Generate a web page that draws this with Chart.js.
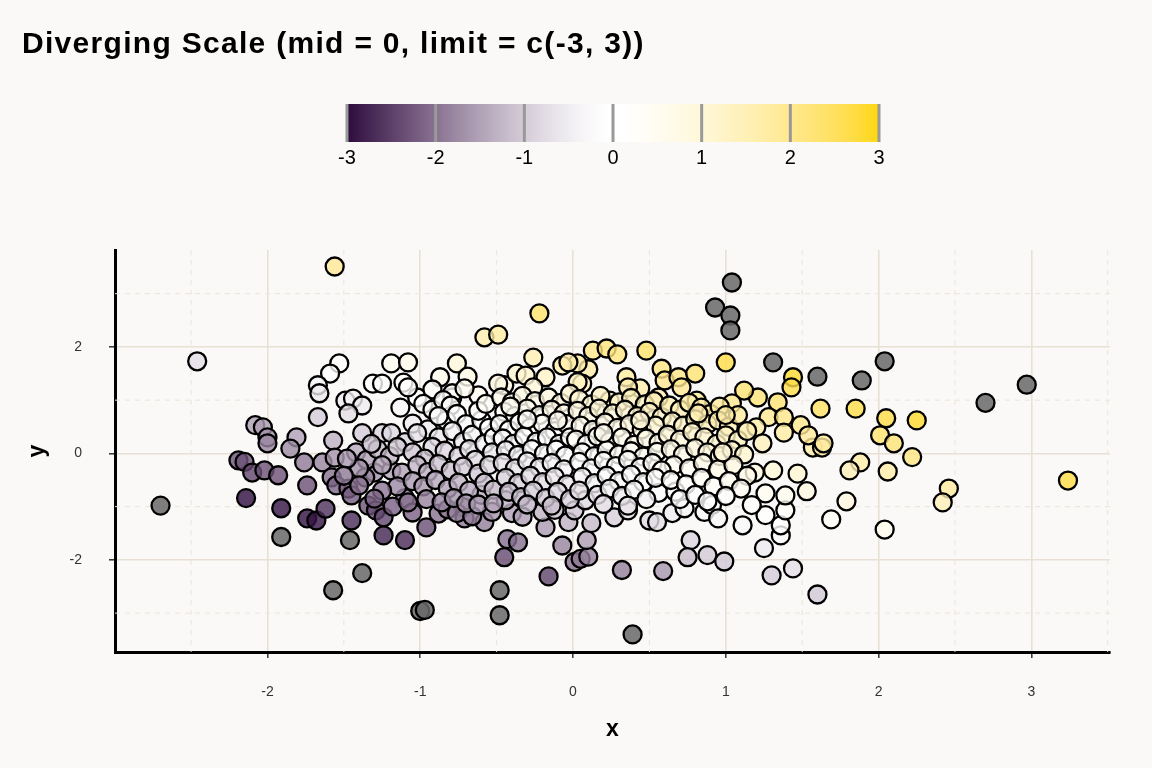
<!DOCTYPE html>
<html>
<head>
<meta charset="utf-8">
<title>Diverging Scale</title>
<script src="https://cdn.jsdelivr.net/npm/chart.js"></script>
<style>
  body{margin:0;background:#faf9f7}
  #wrap{width:1152px;height:768px;position:relative}
</style>
</head>
<body>
<div id="wrap"><canvas id="grafik"></canvas></div>
<script>
// ================= DATA =================
const xTicks = [-2, -1, 0, 1, 2, 3];
const yTicks = [-2, 0, 2];
const legendTicks = [-3, -2, -1, 0, 1, 2, 3];
const fillLimits = [-3, 3];

// [x, y] pairs; fill value is x + y
const points = [
  // outer / sparse
  [-1.56,3.51],[-2.46,1.73],[-2.70,-0.98],[-0.22,2.63],[-0.58,2.18],[-0.49,2.23],
  [1.04,3.21],[0.93,2.74],[1.03,2.59],[1.03,2.31],[1.0,1.71],[1.31,1.71],[1.60,1.44],[2.04,1.73],[1.89,1.37],[2.97,1.29],[2.70,0.95],
  [1.44,1.43],[1.43,1.24],[1.62,0.84],[1.85,0.84],[2.05,0.66],[2.25,0.62],[2.01,0.34],[2.10,0.19],[2.22,-0.07],[2.06,-0.34],
  [1.88,-0.17],[1.81,-0.32],[3.24,-0.51],[2.46,-0.66],[2.42,-0.92],[1.79,-0.90],[1.69,-1.24],[2.04,-1.43],[1.60,-2.65],
  [1.44,-2.16],[1.30,-2.29],[1.25,-1.78],[1.36,-1.54],[1.36,-1.35],[1.39,-1.07],[1.39,-0.79],[1.53,-0.71],[1.47,-0.38],
  [1.26,-0.75],[1.26,-1.16],[1.19,-0.36],[1.57,0.11],[1.63,0.11],[1.31,-0.32],
  [1.21,1.05],[1.34,0.96],[1.28,0.68],[1.38,0.68],[1.20,0.49],[1.38,0.39],[1.49,0.53],[1.54,0.34],[1.64,0.19],[1.24,0.19],
  [1.12,1.18],[1.04,0.94],[0.81,0.99],
  // top centre
  [0.13,1.93],[0.22,1.97],[0.29,1.86],[0.48,1.93],[0.10,1.58],[0.03,1.69],[0.35,1.43],[0.44,1.22],[0.36,1.24],[0.58,1.59],
  [0.60,1.37],[0.69,1.43],[0.71,1.24],[0.80,1.50],[0.56,1.05],[0.24,0.99],[0.06,1.31],[0.03,1.34],
  [-0.26,1.80],[-0.76,1.69],[-0.69,1.44],[-0.45,1.28],[-0.37,1.50],[-0.31,1.46],[-0.18,1.43],[-0.07,1.65],[-0.03,1.71],
  [-0.26,1.24],[-0.62,1.09],[-1.02,1.05],[-0.79,1.05],[-0.49,1.31],
  // upper left
  [-1.53,1.69],[-1.59,1.50],[-1.67,1.28],[-1.66,1.13],[-1.67,0.68],[-1.49,0.99],[-1.44,1.03],[-1.38,0.90],[-1.47,0.75],
  [-1.57,0.24],[-1.81,0.30],[-2.08,0.53],[-2.03,0.49],[-2.0,0.30],[-1.19,1.69],[-1.08,1.71],[-1.31,1.31],[-1.25,1.31],
  [-1.11,1.33],[-1.08,1.24],[-1.13,0.86],[-1.38,0.38],[-1.25,0.38],[-1.19,0.38],[-1.05,0.56],[-1.10,0.21],
  [-0.87,1.43],[-0.79,1.13],[-0.92,1.20],[-0.71,1.22],
  // lower left
  [-2.19,-0.13],[-2.15,-0.16],[-2.10,-0.36],[-2.02,-0.32],[-1.93,-0.41],[-2.14,-0.84],[-1.91,-1.03],[-1.91,-1.57],
  [-1.74,-1.22],[-1.68,-1.26],[-1.62,-1.04],[-1.74,-0.60],[-1.76,-0.17],[-1.64,-0.17],[-1.56,-0.08],[-1.85,0.09],
  [-2.0,0.19],[-1.58,-0.45],[-1.55,-0.60],[-1.46,-1.63],[-1.38,-2.25],[-1.57,-2.57],[-1.45,-1.26],[-1.47,-0.66],
  [-1.45,-0.79],[-1.34,-0.98],[-1.29,-1.07],[-1.24,-1.20],[-1.24,-1.54],[-1.10,-1.63],[-1.10,-0.84],[-1.30,-0.36],
  [-1.19,-0.32],[-1.12,-0.36],[-1.36,-0.45],[-1.0,-2.96],[-0.97,-2.94],
  [-1.42,0.02],[-1.35,-0.12],[-1.28,0.08],[-1.20,-0.05],[-1.15,0.12],[-1.40,-0.28],[-1.25,-0.22],[-1.48,-0.10],
  [-1.32,0.18],[-1.15,-0.62],[-1.25,-0.70],[-1.40,-0.60],[-1.50,-0.42],[-1.18,-1.00],[-1.30,-0.85],
  // lower centre
  [-0.48,-2.57],[-0.48,-3.04],[-0.16,-2.31],[-0.45,-1.95],[-0.43,-1.61],[-0.36,-1.67],[-0.96,-1.39],[-0.88,-1.13],
  [-1.05,-1.11],[-0.72,-1.01],[-0.71,-1.22],[-0.58,-1.29],[-0.53,-1.10],[-0.40,-1.12],[-0.33,-1.19],[-0.18,-1.39],
  [-0.07,-1.73],[0.01,-2.04],[-0.20,-1.10],[-0.12,-1.06],[-0.03,-1.29],[-0.60,-0.78],[-0.44,-0.88],
  [-0.82,-1.05],[-0.76,-1.12],[-0.66,-1.18],
  [0.39,-3.40],[0.32,-2.19],[0.59,-2.21],[0.77,-1.63],[0.75,-1.95],[0.88,-1.91],[0.99,-2.03],[0.05,-1.98],[0.10,-1.94],
  [0.09,-1.63],[0.12,-1.31],[0.27,-1.20],[0.36,-1.07],[0.50,-1.26],[0.55,-1.29],[0.65,-1.12],[0.73,-1.03],[0.86,-1.10],
  [0.91,-0.97],[0.95,-1.22],[1.11,-1.35],[1.17,-0.97],[0.56,-0.74],[0.67,-0.72],[0.01,-1.07],[0.08,-0.88],
  // dense middle
  [-0.98,0.93],[-0.92,0.82],[-0.85,1.0],[-0.80,0.90],[-0.83,0.62],[-0.76,0.74],[-0.70,0.55],[-0.95,0.45],[-1.02,0.38],
  [-0.88,0.30],[-0.79,0.42],[-0.72,0.22],[-0.66,0.35],[-0.60,0.62],[-0.55,0.48],[-0.62,0.80],[-0.57,0.93],[-0.92,0.12],
  [-0.84,0.05],[-0.75,-0.05],[-0.68,0.08],[-0.58,0.18],[-0.52,0.30],[-1.05,0.02],[-0.97,-0.10],[-0.64,-0.12],[-0.53,0.02],
  [-0.88,0.70],
  [-0.47,1.05],[-0.40,0.96],[-0.33,1.08],[-0.25,0.98],[-0.16,1.05],[-0.08,0.95],[-0.02,1.12],[-0.45,0.78],[-0.38,0.70],
  [-0.30,0.84],[-0.22,0.72],[-0.14,0.82],[-0.06,0.75],[-0.48,0.55],[-0.42,0.44],[-0.35,0.58],[-0.28,0.48],[-0.20,0.56],
  [-0.12,0.42],[-0.04,0.55],[-0.46,0.28],[-0.39,0.18],[-0.32,0.32],[-0.24,0.22],[-0.17,0.30],[-0.09,0.18],[-0.02,0.30],
  [-0.44,0.06],[-0.36,-0.03],[-0.27,0.08],[-0.19,0.00],[-0.11,0.07],[-0.05,-0.04],[-0.30,0.64],[-0.10,0.62],[-0.41,0.88],
  [0.04,1.02],[0.12,0.92],[0.18,1.08],[0.30,0.96],[0.38,1.04],[0.47,0.92],[0.53,0.98],[0.03,0.80],[0.10,0.70],[0.17,0.84],
  [0.26,0.75],[0.34,0.82],[0.42,0.70],[0.50,0.78],[0.58,0.68],[0.05,0.52],[0.13,0.44],[0.21,0.58],[0.29,0.48],[0.37,0.55],
  [0.45,0.45],[0.54,0.52],[0.02,0.26],[0.09,0.18],[0.16,0.32],[0.24,0.22],[0.32,0.30],[0.40,0.16],[0.48,0.28],[0.56,0.20],
  [0.06,0.02],[0.14,-0.05],[0.22,0.06],[0.30,-0.02],[0.38,0.04],[0.46,-0.06],[0.55,0.03],[0.20,0.38],[0.44,0.62],
  [0.63,0.90],[0.70,0.82],[0.76,0.95],[0.84,0.86],[0.90,0.74],[0.96,0.88],[0.65,0.60],[0.72,0.52],[0.80,0.64],[0.88,0.55],
  [0.95,0.62],[1.02,0.50],[1.08,0.72],[0.62,0.35],[0.70,0.26],[0.78,0.40],[0.86,0.30],[0.94,0.18],[1.00,0.34],[1.08,0.25],
  [1.14,0.42],[0.64,0.08],[0.72,-0.02],[0.80,0.10],[0.88,0.02],[0.96,-0.05],[1.04,0.06],[1.12,-0.02],[0.66,-0.22],
  [0.76,-0.28],[0.85,-0.18],[0.95,-0.30],[1.05,-0.22],[1.14,-0.42],[0.98,0.02],[0.82,0.75],[1.00,0.72],
  [-1.02,-0.22],[-0.95,-0.35],[-0.88,-0.20],[-0.80,-0.32],[-0.72,-0.25],[-0.62,-0.38],[-0.55,-0.22],[-1.05,-0.52],
  [-0.98,-0.62],[-0.90,-0.50],[-0.82,-0.66],[-0.75,-0.55],[-0.68,-0.70],[-0.58,-0.55],[-0.52,-0.68],[-0.96,-0.86],
  [-0.86,-0.92],[-0.78,-0.84],[-0.70,-0.94],[-0.62,-0.96],[-0.52,-0.94],[-1.08,-0.92],
  [-0.46,-0.18],[-0.38,-0.28],[-0.30,-0.15],[-0.22,-0.26],[-0.14,-0.18],[-0.06,-0.30],[-0.44,-0.46],[-0.36,-0.56],
  [-0.28,-0.42],[-0.20,-0.54],[-0.12,-0.44],[-0.04,-0.58],[-0.42,-0.72],[-0.34,-0.82],[-0.26,-0.70],[-0.18,-0.84],
  [-0.10,-0.72],[-0.02,-0.86],[-0.30,-0.96],[-0.14,-0.98],
  [0.04,-0.16],[0.12,-0.28],[0.20,-0.14],[0.28,-0.24],[0.36,-0.12],[0.44,-0.26],[0.52,-0.18],[0.58,-0.32],[0.06,-0.44],
  [0.14,-0.56],[0.22,-0.42],[0.30,-0.52],[0.38,-0.40],[0.46,-0.54],[0.54,-0.46],[0.04,-0.70],[0.16,-0.78],[0.24,-0.66],
  [0.32,-0.80],[0.40,-0.68],[0.48,-0.86],[0.20,-0.95],[0.36,-0.98],
  [0.64,-0.50],[0.74,-0.58],[0.84,-0.46],[0.92,-0.62],[1.02,-0.52],[1.10,-0.66],[0.70,-0.86],[0.80,-0.78],[0.88,-0.90],[1.00,-0.80]
];

// ================= COLOUR SCALE (Lab, like gradient2) =================
const LOW = "#2d0b3e", MID = "#ffffff", HIGH = "#ffd700";
const NA_FILL = "rgba(105,105,105,0.85)";
const ALPHA = 0.8;

function hexRgb(h){ return [1,3,5].map(i=>parseInt(h.substr(i,2),16)); }
function toLab(c){
  let [r,g,b] = c.map(v=>{ v/=255; return v<=0.04045 ? v/12.92 : Math.pow((v+0.055)/1.055,2.4); });
  let X=(0.4124*r+0.3576*g+0.1805*b)/0.95047, Y=0.2126*r+0.7152*g+0.0722*b, Z=(0.0193*r+0.1192*g+0.9505*b)/1.08883;
  const f=t=>t>0.008856 ? Math.cbrt(t) : 7.787*t+16/116;
  return [116*f(Y)-16, 500*(f(X)-f(Y)), 200*(f(Y)-f(Z))];
}
function fromLab(l){
  const fy=(l[0]+16)/116, fx=fy+l[1]/500, fz=fy-l[2]/200;
  const inv=t=>t*t*t>0.008856 ? t*t*t : (t-16/116)/7.787;
  const X=0.95047*inv(fx), Y=inv(fy), Z=1.08883*inv(fz);
  return [3.2406*X-1.5372*Y-0.4986*Z, -0.9689*X+1.8758*Y+0.0415*Z, 0.0557*X-0.2040*Y+1.0570*Z]
    .map(v=>{ v = v<=0.0031308 ? 12.92*v : 1.055*Math.pow(v,1/2.4)-0.055; return Math.round(Math.min(1,Math.max(0,v))*255); });
}
const labLow=toLab(hexRgb(LOW)), labMid=toLab(hexRgb(MID)), labHigh=toLab(hexRgb(HIGH));

function scaleColour(z, a){
  if (z < fillLimits[0] || z > fillLimits[1]) return NA_FILL;
  const end = z < 0 ? labLow : labHigh;
  const t = Math.pow(Math.abs(z) / fillLimits[1], 1.5);
  const c = fromLab(labMid.map((v,i)=>v+(end[i]-v)*t));
  return `rgba(${c[0]},${c[1]},${c[2]},${a})`;
}

// ================= DRAW HELPERS =================
const extras = {
  id: "extras",
  beforeDraw(chart){
    const c = chart.ctx;
    c.save();
    c.fillStyle = "#faf9f7";
    c.fillRect(0,0,chart.width,chart.height);
    c.restore();
  },
  beforeDatasetsDraw(chart){
    // dashed minor grid at the halves
    const c = chart.ctx, a = chart.chartArea, sx = chart.scales.x, sy = chart.scales.y;
    c.save();
    c.strokeStyle = "#ebe4d9";
    c.lineWidth = 1;
    c.setLineDash([5,5]);
    for (let v=-2.5; v<=3.5; v+=1){
      const px = sx.getPixelForValue(v);
      c.beginPath(); c.moveTo(px,a.top); c.lineTo(px,a.bottom); c.stroke();
    }
    [-3, -1, 1, 3].forEach(v=>{
      const py = sy.getPixelForValue(v);
      c.beginPath(); c.moveTo(a.left,py); c.lineTo(a.right,py); c.stroke();
    });
    c.restore();
  },
  afterDraw(chart){
    const c = chart.ctx, a = chart.chartArea;
    c.save();
    // title
    c.fillStyle = "#000";
    c.font = "bold 30px 'Liberation Sans', Arial, sans-serif";
    if ("letterSpacing" in c) c.letterSpacing = "1.3px";
    c.textBaseline = "alphabetic";
    c.textAlign = "left";
    c.fillText("Diverging Scale (mid = 0, limit = c(-3, 3))", 22, 53);
    if ("letterSpacing" in c) c.letterSpacing = "0px";

    // colour bar
    const bx0 = 347, bx1 = 879, by0 = 104, by1 = 142;
    for (let px=bx0; px<bx1; px++){
      const z = fillLimits[0] + (fillLimits[1]-fillLimits[0])*(px+0.5-bx0)/(bx1-bx0);
      c.fillStyle = scaleColour(z, 1);
      c.fillRect(px, by0, 1, by1-by0);
    }
    c.strokeStyle = "#999";
    c.lineWidth = 3;
    c.textBaseline = "middle";
    c.font = "20px 'Liberation Sans', Arial, sans-serif";
    c.textAlign = "center";
    legendTicks.forEach(v=>{
      const px = bx0 + (v-fillLimits[0])/(fillLimits[1]-fillLimits[0])*(bx1-bx0);
      c.beginPath(); c.moveTo(px,by0); c.lineTo(px,by1); c.stroke();
      c.fillStyle = "#000";
      c.fillText(String(v), px, 158);
    });

    // axis titles
    c.font = "bold 23px 'Liberation Sans', Arial, sans-serif";
    c.fillText("x", (a.left+a.right)/2, 730);
    c.translate(38, (a.top+a.bottom)/2);
    c.rotate(-Math.PI/2);
    c.fillText("y", 0, 0);
    c.restore();
  }
};

// ================= CHART =================
new Chart(document.getElementById("grafik"), {
  type: "scatter",
  data: {
    datasets: [{
      data: points.map(p=>({x:p[0], y:p[1]})),
      pointRadius: 9,
      pointBorderWidth: 2.3,
      pointBorderColor: "#000",
      pointBackgroundColor: points.map(p=>scaleColour(p[0]+p[1], ALPHA))
    }]
  },
  options: {
    responsive: true,
    maintainAspectRatio: false,
    animation: false,
    events: [],
    layout: { padding: { left: 0, top: 250, right: 42, bottom: 0 } },
    plugins: { legend: { display: false }, tooltip: { enabled: false } },
    scales: {
      x: {
        type: "linear", min: -2.998, max: 3.515,
        afterBuildTicks: s => { s.ticks = xTicks.map(v=>({value:v})); },
        afterFit: s => { s.height = 116; },
        grid: { color: "#e8e0d4", lineWidth: 1.6, tickColor: "#333", tickLength: 6, tickWidth: 1.5 },
        border: { display: true, color: "#000", width: 3 },
        ticks: { color: "#333", font: { size: 14, family: "'Liberation Sans', Arial" }, padding: 26, maxRotation: 0 }
      },
      y: {
        type: "linear", min: -3.73, max: 3.82,
        afterBuildTicks: s => { s.ticks = yTicks.map(v=>({value:v})); },
        afterFit: s => { s.width = 115; },
        grid: { color: "#e8e0d4", lineWidth: 1.6, tickColor: "#333", tickLength: 6, tickWidth: 1.5 },
        border: { display: true, color: "#000", width: 3 },
        ticks: { color: "#333", font: { size: 14, family: "'Liberation Sans', Arial" }, padding: 27 }
      }
    }
  },
  plugins: [extras]
});
</script>
</body>
</html>
